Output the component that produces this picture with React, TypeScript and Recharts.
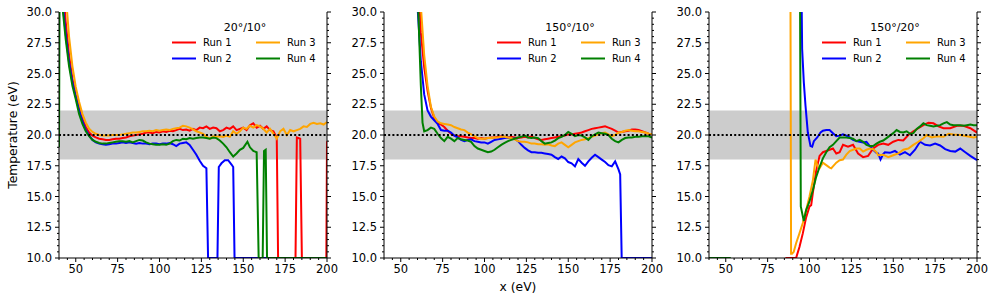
import React from 'react';
import { LineChart, Line, XAxis, YAxis, ReferenceArea, ReferenceLine, Legend, Label } from 'recharts';

type Pt = [number, number | null];

const FONT = '"DejaVu Sans", sans-serif';

const xTicks = [40, 45, 50, 55, 60, 65, 70, 75, 80, 85, 90, 95, 100, 105, 110, 115, 120, 125, 130, 135, 140, 145, 150, 155, 160, 165, 170, 175, 180, 185, 190, 195, 200];
const xLabels = [50, 75, 100, 125, 150, 175, 200];
const yTicks = [10, 10.5, 11, 11.5, 12, 12.5, 13, 13.5, 14, 14.5, 15, 15.5, 16, 16.5, 17, 17.5, 18, 18.5, 19, 19.5, 20, 20.5, 21, 21.5, 22, 22.5, 23, 23.5, 24, 24.5, 25, 25.5, 26, 26.5, 27, 27.5, 28, 28.5, 29, 29.5, 30];
const yLabels = [10, 12.5, 15, 17.5, 20, 22.5, 25, 27.5, 30];

const bandLow = 18;
const bandHigh = 22;
const target = 20;

const runNames = ['Run 1', 'Run 2', 'Run 3', 'Run 4'];
const runColors = ['#ff0000', '#0000ff', '#ffa500', '#008000'];
const panelTitles = ['20°/10°', '150°/10°', '150°/20°'];

// panel 1: 20°/10°
const p1Run1: Pt[] = [[40, 48], [42, 33], [44, 29.2], [46, 26.5], [48, 24.6], [50, 23.3], [52, 22.2], [54, 21.3], [56, 20.65], [58, 20.2], [60, 19.95], [62, 19.8], [64, 19.7], [66, 19.65], [68, 19.6], [70, 19.6], [72, 19.65], [74, 19.7], [76, 19.7], [78, 19.75], [80, 19.8], [82, 19.9], [84, 19.95], [86, 20.0], [88, 20.05], [90, 20.1], [92, 20.2], [94, 20.2], [96, 20.15], [98, 20.25], [100, 20.2], [102, 20.3], [104, 20.25], [106, 20.35], [108, 20.3], [110, 20.4], [112, 20.5], [114, 20.4], [116, 20.45], [118, 20.35], [120, 20.5], [122, 20.4], [124, 20.6], [126, 20.55], [128, 20.7], [130, 20.5], [132, 20.6], [134, 20.55], [136, 20.3], [138, 20.4], [140, 20.6], [142, 20.5], [144, 20.7], [146, 20.4], [148, 20.5], [150, 20.6], [152, 20.4], [154, 20.8], [156, 20.95], [158, 20.6], [160, 20.75], [162, 20.5], [164, 20.7], [166, 20.4], [168, 20.3], [170, 19.8], [170.8, 10], [181.2, 10], [182, 19.8], [184, 19.7], [185, 10], [199.6, 10], [200, 19.5]];
const p1Run2: Pt[] = [[40, 60], [42, 31], [44, 28.2], [46, 25.9], [48, 24.3], [50, 23.1], [52, 22.0], [54, 21.1], [56, 20.4], [58, 19.95], [60, 19.6], [62, 19.4], [64, 19.3], [66, 19.25], [68, 19.2], [70, 19.25], [72, 19.3], [74, 19.3], [76, 19.35], [78, 19.4], [80, 19.35], [82, 19.4], [84, 19.35], [86, 19.3], [88, 19.35], [90, 19.3], [92, 19.3], [94, 19.25], [96, 19.3], [98, 19.3], [100, 19.25], [102, 19.3], [104, 19.3], [106, 19.35], [108, 19.25], [110, 19.1], [112, 19.3], [114, 19.35], [116, 19.4], [118, 19.2], [120, 18.8], [122, 18.4], [124, 17.9], [126, 17.5], [128, 17.3], [129, 10], [134.6, 10], [135.4, 17.4], [137, 17.7], [139, 17.95], [141, 17.95], [143, 17.6], [144, 17.4], [144.8, 10], [200, 10]];
const p1Run3: Pt[] = [[40, 70], [42, 40], [44, 31.5], [46, 28.0], [48, 25.6], [50, 23.9], [52, 22.7], [54, 21.7], [56, 21.0], [58, 20.5], [60, 20.25], [62, 20.1], [64, 20.0], [66, 19.95], [68, 19.95], [70, 19.95], [72, 20.0], [74, 20.0], [76, 20.0], [78, 20.05], [80, 20.1], [82, 20.15], [84, 20.2], [86, 20.2], [88, 20.25], [90, 20.3], [92, 20.3], [94, 20.35], [96, 20.3], [98, 20.4], [100, 20.35], [102, 20.4], [104, 20.45], [106, 20.4], [108, 20.5], [110, 20.55], [112, 20.6], [114, 20.75], [116, 20.7], [118, 20.6], [120, 20.45], [122, 20.3], [124, 20.2], [126, 20.1], [128, 19.85], [130, 19.7], [132, 19.9], [134, 19.85], [136, 19.9], [138, 19.85], [140, 19.95], [142, 19.85], [144, 20.3], [146, 20.1], [148, 20.3], [150, 20.6], [152, 20.5], [154, 20.75], [156, 20.6], [158, 20.8], [160, 20.7], [162, 20.5], [164, 20.2], [166, 20.5], [168, 20.1], [170, 19.7], [172, 20.3], [174, 20.5], [176, 20.0], [178, 20.4], [180, 20.3], [182, 20.4], [184, 20.5], [186, 20.7], [188, 20.65], [190, 20.9], [192, 21.0], [194, 20.9], [196, 20.95], [198, 20.85], [200, 21.05]];
const p1Run4: Pt[] = [[40, 19.0], [40.6, 40], [42, 30.5], [44, 27.8], [46, 25.6], [48, 24.0], [50, 22.9], [52, 21.7], [54, 20.9], [56, 20.3], [58, 19.9], [60, 19.6], [62, 19.45], [64, 19.35], [66, 19.3], [68, 19.3], [70, 19.35], [72, 19.4], [74, 19.45], [76, 19.5], [78, 19.5], [80, 19.45], [82, 19.5], [84, 19.4], [86, 19.5], [88, 19.6], [90, 19.55], [92, 19.4], [94, 19.3], [96, 19.25], [98, 19.2], [100, 19.2], [102, 19.25], [104, 19.2], [106, 19.3], [108, 19.5], [110, 19.6], [112, 19.55], [114, 19.7], [116, 19.65], [118, 19.75], [120, 19.7], [122, 19.75], [124, 19.8], [126, 19.8], [128, 19.75], [130, 19.7], [132, 19.8], [134, 19.75], [136, 19.55], [138, 19.3], [140, 19.0], [142, 18.6], [144, 18.25], [146, 18.5], [148, 18.8], [150, 18.95], [152.5, 19.45], [154, 19.0], [156, 18.7], [158, 18.6], [159.2, 10], [161.6, 10], [162.4, 18.7], [163.4, 18.8], [164.2, 10], [200, 10]];

// panel 2: 150°/10°
const p2Run1: Pt[] = [[58, 50], [60, 34], [62, 28.3], [64, 25.5], [66, 23.6], [68, 22.2], [70, 21.4], [72, 21.0], [74, 20.85], [76, 20.65], [78, 20.35], [80, 20.1], [82, 19.95], [84, 19.9], [86, 19.9], [88, 19.85], [90, 19.8], [92, 19.75], [94, 19.75], [96, 19.7], [98, 19.75], [100, 19.7], [102, 19.75], [104, 19.8], [106, 19.8], [108, 19.85], [110, 19.9], [112, 19.85], [114, 19.8], [116, 19.85], [118, 19.8], [120, 19.75], [122, 19.8], [124, 19.85], [126, 19.8], [128, 19.9], [130, 19.75], [132, 19.65], [134, 19.6], [136, 19.65], [138, 19.7], [140, 19.75], [142, 19.8], [144, 19.85], [146, 19.9], [148, 19.95], [150, 20.05], [152, 20.05], [154, 20.1], [156, 20.15], [158, 20.2], [160, 20.3], [162, 20.4], [164, 20.5], [166, 20.55], [168, 20.6], [170, 20.65], [172, 20.7], [174, 20.6], [176, 20.5], [178, 20.35], [180, 20.2], [182, 20.25], [184, 20.3], [186, 20.35], [188, 20.45], [190, 20.45], [192, 20.4], [194, 20.3], [196, 20.2], [198, 20.1], [200, 20.05]];
const p2Run2: Pt[] = [[58, 45], [60, 30.5], [62, 26.0], [64, 23.3], [66, 22.0], [68, 21.5], [70, 21.2], [72, 20.9], [74, 20.4], [76, 20.35], [78, 20.35], [80, 20.2], [82, 19.95], [84, 19.8], [86, 19.6], [88, 19.5], [90, 19.6], [92, 19.65], [94, 19.5], [96, 19.45], [98, 19.4], [100, 19.4], [102, 19.3], [104, 19.45], [106, 19.6], [108, 19.65], [110, 19.7], [112, 19.75], [114, 19.8], [116, 19.75], [118, 19.7], [120, 19.5], [122, 19.2], [124, 18.95], [126, 18.75], [128, 18.6], [130, 18.6], [132, 18.55], [134, 18.55], [136, 18.5], [138, 18.45], [140, 18.4], [142, 18.2], [144, 18.05], [146, 18.25], [148, 18.1], [150, 17.8], [152, 17.7], [154, 17.45], [156, 18.05], [158, 17.75], [160, 17.5], [162, 17.85], [164, 18.15], [166, 18.4], [168, 18.2], [170, 18.0], [172, 17.8], [174, 17.55], [176, 17.45], [178, 17.85], [180, 17.2], [181, 16.8], [181.9, 10], [200, 10]];
const p2Run3: Pt[] = [[60, 45], [62, 30.5], [64, 26.5], [66, 24.0], [68, 22.3], [70, 21.5], [72, 21.1], [74, 20.95], [76, 20.9], [78, 20.85], [80, 20.8], [82, 20.65], [84, 20.55], [86, 20.45], [88, 20.4], [90, 20.2], [92, 20.05], [94, 19.9], [96, 19.75], [98, 19.7], [100, 19.7], [102, 19.75], [104, 19.75], [106, 19.8], [108, 19.8], [110, 19.85], [112, 19.85], [114, 19.8], [116, 19.75], [118, 19.65], [120, 19.5], [122, 19.45], [124, 19.45], [126, 19.4], [128, 19.3], [130, 19.3], [132, 19.25], [134, 19.25], [136, 19.2], [138, 19.25], [140, 19.15], [142, 19.1], [144, 19.3], [146, 19.4], [148, 19.2], [150, 19.0], [152, 19.2], [154, 19.4], [156, 19.5], [158, 19.6], [160, 19.65], [162, 19.75], [164, 19.85], [166, 19.95], [168, 20.05], [170, 20.15], [172, 20.2], [174, 20.05], [176, 19.9], [178, 20.0], [180, 20.2], [182, 20.25], [184, 20.35], [186, 20.4], [188, 20.35], [190, 20.3], [192, 20.3], [194, 20.25], [196, 20.2], [198, 20.1], [200, 20.05]];
const p2Run4: Pt[] = [[58, 45], [60, 32], [62, 24], [63, 21], [64, 20.3], [66, 20.4], [68, 20.6], [70, 20.5], [72, 20.1], [74, 19.75], [76, 19.5], [78, 19.85], [80, 19.7], [82, 19.5], [84, 19.75], [86, 19.65], [88, 19.6], [90, 19.55], [92, 19.45], [94, 19.1], [96, 18.9], [98, 18.8], [100, 18.7], [102, 18.6], [104, 18.65], [106, 18.8], [108, 19.0], [110, 19.2], [112, 19.35], [114, 19.5], [116, 19.6], [118, 19.7], [120, 19.8], [122, 19.85], [124, 19.95], [126, 19.8], [128, 19.75], [130, 19.8], [132, 19.75], [134, 19.5], [136, 19.3], [138, 19.35], [140, 19.4], [142, 19.55], [144, 19.75], [146, 19.85], [148, 20.0], [150, 20.25], [152, 20.1], [154, 19.9], [156, 20.0], [158, 19.95], [160, 19.8], [162, 19.6], [164, 19.9], [166, 20.05], [168, 20.2], [170, 20.15], [172, 20.1], [174, 20.0], [176, 19.7], [178, 19.5], [180, 19.4], [182, 19.6], [184, 19.75], [186, 19.8], [188, 19.8], [190, 19.85], [192, 19.85], [194, 19.9], [196, 19.9], [198, 19.9], [200, 19.8]];

// panel 3: 150°/20°
const p3Run1: Pt[] = [[85.6, 10], [92, 10], [94, 10.9], [96, 12.0], [98, 13.3], [100, 14.2], [101, 14.3], [102, 15.3], [104, 17.1], [106, 18.3], [108, 18.6], [110, 18.7], [112, 18.8], [114, 18.9], [116, 18.5], [118, 18.6], [120, 19.2], [123, 19.05], [126, 19.2], [129, 18.5], [132, 18.2], [135, 18.3], [138, 18.9], [141, 19.2], [144, 19.3], [147, 19.2], [150, 19.45], [153, 19.6], [156, 19.55], [159, 20.0], [162, 20.3], [165, 20.55], [168, 20.8], [171, 21.0], [174, 20.95], [177, 20.7], [180, 20.55], [184, 20.55], [188, 20.75], [192, 20.75], [196, 20.55], [200, 20.2]];
const p3Run2: Pt[] = [[94.2, 45], [95.6, 27], [96.6, 24.3], [97.6, 22.4], [99, 20.2], [100.6, 19.1], [101.6, 19.05], [102.6, 19.5], [104.6, 19.8], [106.6, 20.2], [108, 20.35], [110, 20.4], [112, 20.4], [114, 20.15], [116, 19.9], [118, 19.95], [120, 20.05], [122, 19.95], [124, 19.8], [126, 19.6], [128, 19.5], [130, 19.45], [132, 19.4], [134, 19.45], [136, 19.1], [138, 18.8], [140, 18.55], [141, 18.5], [142.4, 18.0], [144, 18.45], [145, 18.6], [148, 18.55], [151, 18.7], [154, 18.4], [157, 18.6], [160, 18.35], [163, 18.8], [166, 19.45], [169, 19.2], [172, 19.15], [175, 19.3], [178, 19.15], [181, 18.85], [184, 18.7], [187, 18.65], [190, 18.9], [193, 18.6], [196, 18.3], [200, 17.95]];
const p3Run3: Pt[] = [[88.4, 45], [89, 10.35], [89.6, 10.35], [90.6, 10.5], [92, 11.2], [94, 12.0], [96, 12.85], [98, 13.9], [100, 15.0], [102, 16.3], [103.6, 18.0], [105, 17.4], [106, 17.3], [108, 17.75], [110, 17.55], [112, 17.35], [113, 17.3], [114, 17.45], [116, 17.75], [118, 17.95], [120, 18.0], [122, 18.4], [124, 18.7], [126, 18.8], [128, 18.9], [130, 18.9], [132, 18.65], [134, 18.8], [136, 18.9], [138, 18.85], [140, 18.6], [141, 18.35], [144, 18.4], [147, 18.2], [150, 18.35], [153, 18.5], [156, 18.8], [159, 18.9], [162, 19.2], [165, 19.45], [168, 19.73], [170, 20.0], [173, 19.8], [176, 19.9], [180, 19.85], [183, 20.1], [186, 20.05], [190, 20.0], [194, 19.9], [198, 19.8], [200, 19.85]];
const p3Run4: Pt[] = [[40, 10], [53, 10], [53.5, null], [94, 45], [94.8, 14.2], [96.6, 13.0], [98, 13.9], [100, 14.6], [102, 15.5], [104, 16.6], [106, 17.4], [108, 18.1], [110, 18.6], [112, 19.0], [114, 19.2], [116, 19.5], [118, 19.8], [120, 19.8], [122, 19.8], [124, 19.75], [126, 19.7], [128, 19.5], [130, 19.6], [132, 19.45], [134, 19.2], [136, 19.1], [138, 19.1], [140, 19.3], [142, 19.45], [144, 19.55], [146, 19.75], [148, 19.95], [150, 20.15], [152, 20.4], [154, 20.25], [156, 20.2], [158, 20.3], [160, 20.1], [162, 20.15], [164, 20.5], [166, 20.7], [168, 20.95], [170, 20.8], [172, 20.75], [174, 20.7], [176, 20.75], [178, 20.8], [180, 20.95], [182, 21.05], [184, 20.85], [186, 20.8], [188, 20.8], [190, 20.8], [192, 20.75], [194, 20.8], [196, 20.85], [198, 20.8], [200, 20.8]];

const panels: Pt[][][] = [
  [p1Run1, p1Run2, p1Run3, p1Run4],
  [p2Run1, p2Run2, p2Run3, p2Run4],
  [p3Run1, p3Run2, p3Run3, p3Run4],
];

const CHART_W = 339;
const CHART_H = 302;
const AXIS_W = 59;
const chartLefts = [0, 325, 650];

const BottomTick = (p: any) => {
  const v = p.payload.value;
  const major = xLabels.includes(v);
  const len = major ? 4 : 2;
  return (
    <g>
      <line x1={p.x} x2={p.x} y1={p.y} y2={p.y + len} stroke="#000" strokeWidth={1} />
      {major && (
        <text x={p.x} y={p.y + len + 3} dy="0.71em" textAnchor="middle" fontSize={11.5} fill="#000" fontFamily={FONT}>
          {v}
        </text>
      )}
    </g>
  );
};

const LeftTick = (p: any) => {
  const v = p.payload.value;
  const major = yLabels.includes(v);
  const len = major ? 4 : 2;
  return (
    <g>
      <line x1={p.x} x2={p.x - len} y1={p.y} y2={p.y} stroke="#000" strokeWidth={1} />
      {major && (
        <text x={p.x - len - 3} y={p.y} dy="0.36em" textAnchor="end" fontSize={11.5} fill="#000" fontFamily={FONT}>
          {v.toFixed(1)}
        </text>
      )}
    </g>
  );
};

const RightTick = (p: any) => {
  const major = yLabels.includes(p.payload.value);
  const len = major ? 4 : 2;
  return <line x1={p.x} x2={p.x + len} y1={p.y} y2={p.y} stroke="#000" strokeWidth={1} />;
};

function legendContent(title: string) {
  return (props: any) => {
    const items = props.payload && props.payload.length ? props.payload : runNames.map((n, i) => ({ value: n, color: runColors[i] }));
    const base = AXIS_W;
    return (
      <svg width={CHART_W} height={70} style={{ position: 'absolute', left: 0, top: 0, overflow: 'visible' }}>
        <text x={base + 186} y={27} dy="0.36em" textAnchor="middle" fontSize={11} fontFamily={FONT} fill="#000">
          {title}
        </text>
        {items.map((it: any, i: number) => {
          const col = Math.floor(i / 2);
          const row = i % 2;
          const lx = base + (col === 0 ? 113 : 197);
          const y = row === 0 ? 42.5 : 58.5;
          return (
            <g key={i}>
              <line x1={lx} x2={lx + 24} y1={y} y2={y} stroke={it.color} strokeWidth={2} />
              <text x={lx + 31} y={y} dy="0.36em" fontSize={10} fontFamily={FONT} fill="#000">
                {it.value}
              </text>
            </g>
          );
        })}
      </svg>
    );
  };
}

function Panel({ index }: { index: number }) {
  const runs = panels[index];
  return (
    <div style={{ position: 'absolute', left: chartLefts[index], top: 0 }}>
      <LineChart width={CHART_W} height={CHART_H} margin={{ top: 12, right: 4, bottom: 0, left: 0 }}>
        <XAxis
          xAxisId="b"
          dataKey="x"
          type="number"
          domain={[40, 200]}
          ticks={xTicks}
          interval={0}
          allowDataOverflow
          height={44}
          tickSize={0}
          tickMargin={0}
          tickLine={false}
          tick={(p: any) => <BottomTick {...p} />}
          axisLine={{ stroke: '#000', strokeWidth: 1 }}
        >
          {index === 1 && (
            <Label
              content={(lp: any) => {
                const vb = lp.viewBox || { x: AXIS_W, y: 258, width: 268, height: 44 };
                return (
                  <text x={vb.x + vb.width / 2} y={vb.y + 33} textAnchor="middle" fontSize={12.3} fontFamily={FONT} fill="#000">
                    x (eV)
                  </text>
                );
              }}
            />
          )}
        </XAxis>
        <XAxis xAxisId="t" orientation="top" type="number" domain={[40, 200]} height={0} tick={false} tickLine={false} axisLine={{ stroke: '#000', strokeWidth: 1 }} />
        <YAxis
          yAxisId="l"
          type="number"
          domain={[10, 30]}
          ticks={yTicks}
          interval={0}
          allowDataOverflow
          width={AXIS_W}
          tickSize={0}
          tickMargin={0}
          tickLine={false}
          tick={(p: any) => <LeftTick {...p} />}
          axisLine={{ stroke: '#000', strokeWidth: 1 }}
        >
          {index === 0 && (
            <Label
              content={(lp: any) => {
                const vb = lp.viewBox || { x: 0, y: 12, width: AXIS_W, height: 246 };
                const cx = vb.x + 12.5;
                const cy = vb.y + vb.height / 2;
                return (
                  <text x={cx} y={cy} dy="0.36em" textAnchor="middle" transform={`rotate(-90 ${cx} ${cy})`} fontSize={12.3} fontFamily={FONT} fill="#000">
                    Temperature (eV)
                  </text>
                );
              }}
            />
          )}
        </YAxis>
        <YAxis
          yAxisId="r"
          orientation="right"
          type="number"
          domain={[10, 30]}
          ticks={yTicks}
          interval={0}
          allowDataOverflow
          width={8}
          tickSize={0}
          tickMargin={0}
          tickLine={false}
          tick={(p: any) => <RightTick {...p} />}
          axisLine={{ stroke: '#000', strokeWidth: 1 }}
        />
        <ReferenceArea xAxisId="b" yAxisId="l" y1={bandLow} y2={bandHigh} fill="#cccccc" fillOpacity={1} stroke="none" />
        {runs.map((pts, i) => (
          <Line
            key={runNames[i]}
            xAxisId="b"
            yAxisId="l"
            name={runNames[i]}
            data={pts.map(([x, y]) => ({ x, y }))}
            dataKey="y"
            type="linear"
            stroke={runColors[i]}
            strokeWidth={2}
            dot={false}
            activeDot={false}
            connectNulls={false}
            isAnimationActive={false}
          />
        ))}
        <ReferenceLine xAxisId="b" yAxisId="l" y={target} stroke="#000" strokeWidth={2} strokeDasharray="2 2.2" />
        <Legend
          verticalAlign="middle"
          align="center"
          wrapperStyle={{ left: 0, top: 0, width: CHART_W, height: 70 }}
          content={legendContent(panelTitles[index])}
        />
      </LineChart>
    </div>
  );
}

export default function App() {
  return (
    <div style={{ position: 'absolute', left: 0, top: 0, width: 996, height: 302, background: '#fff', fontFamily: FONT }}>
      <Panel index={0} />
      <Panel index={1} />
      <Panel index={2} />
    </div>
  );
}
